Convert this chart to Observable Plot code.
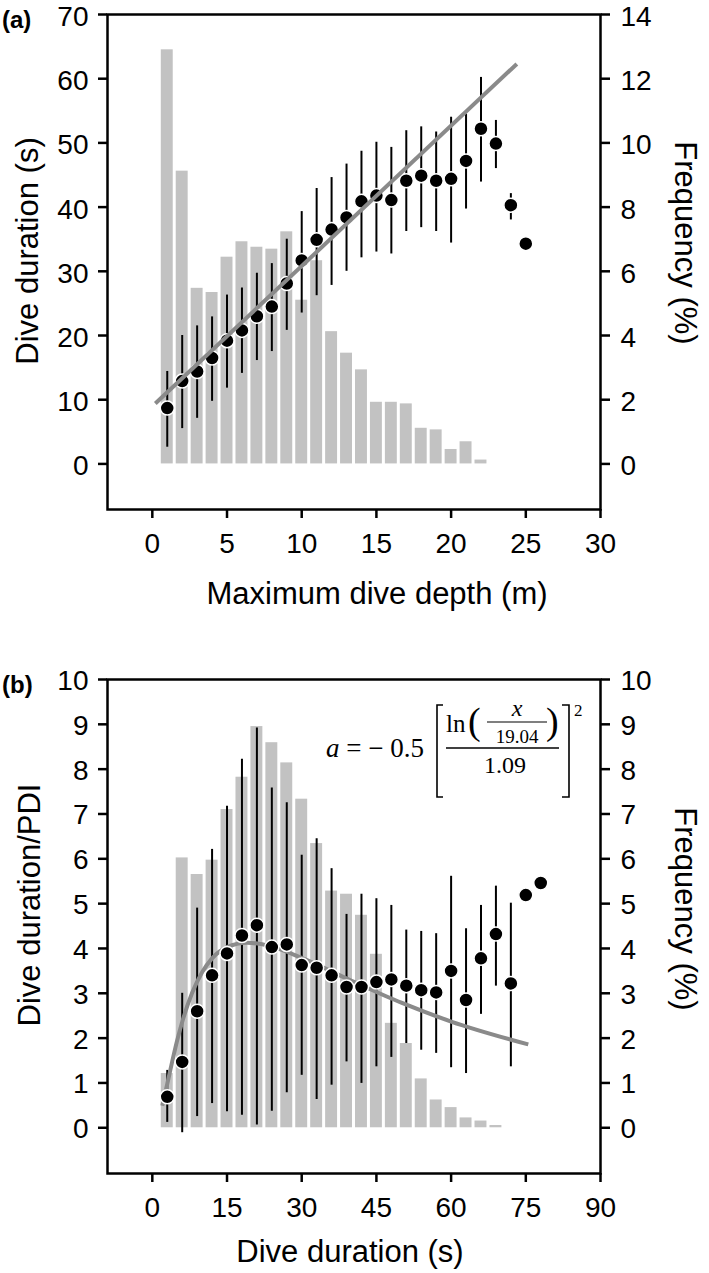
<!DOCTYPE html>
<html><head><meta charset="utf-8">
<script src="https://cdn.jsdelivr.net/npm/d3@7"></script>
<script src="https://cdn.jsdelivr.net/npm/@observablehq/plot@0.6"></script>
<style>
html,body{margin:0;padding:0;background:#fff;}
#wrap{position:relative;width:709px;height:1273px;overflow:hidden;}
#wrap > svg{display:block}
#overlay{position:absolute;left:0;top:0;pointer-events:none}
</style></head><body>
<div id="wrap"></div>
<script>
// ---------- Panel (a): dive duration vs maximum dive depth ----------
const depthBins = [1,2,3,4,5,6,7,8,9,10,11,12,13,14,15,16,17,18,19,20,21,22];
const depthFreq = [12.9,9.12,5.47,5.34,6.44,6.92,6.75,6.69,7.23,5.1,6.33,4.12,3.45,2.93,1.92,1.92,1.87,1.11,1.06,0.45,0.69,0.12];
const depthX = [1,2,3,4,5,6,7,8,9,10,11,12,13,14,15,16,17,18,19,20,21,22,23,24,25];
const durMean = [8.7,12.9,14.4,16.5,19.2,20.8,23.0,24.5,28.1,31.7,34.9,36.5,38.4,40.9,41.8,41.1,44.1,44.9,44.1,44.4,47.2,52.2,49.9,40.3,34.3];
const durLow  = [2.6,5.5,7.1,9.75,11.8,14.1,16.1,17.5,20.8,23.5,26.2,27.8,30.0,32.1,33.0,32.7,36.2,36.8,36.2,34.4,39.7,43.9,46.0,38.0,null];
const durHigh = [14.4,20.0,21.5,22.9,26.3,27.4,29.7,31.2,35.0,39.3,42.9,44.6,46.7,48.7,50.1,49.3,51.9,52.5,51.7,54.0,54.5,60.2,53.5,42.1,null];
const fitDepth = [0.2, 24.4];
const fitDur = [9.4, 62.3];
const ticksAx = [0,5,10,15,20,25,30];
const ticksAyLeft = [0,10,20,30,40,50,60,70];
const ticksAyRight = [0,2,4,6,8,10,12,14];
const freqFactorA = 5; // right axis (0-14 %) shares the left axis (0-70 s)

// ---------- Panel (b): dive duration / PDI vs dive duration ----------
const durBins = [3,6,9,12,15,18,21,24,27,30,33,36,39,42,45,48,51,54,57,60,63,66,69];
const durFreq = [1.21,6.02,5.65,5.97,7.10,7.82,8.95,8.59,8.14,7.33,6.34,5.28,5.21,4.74,3.87,2.33,1.88,1.09,0.62,0.45,0.22,0.15,0.05];
const pdiX = [3,6,9,12,15,18,21,24,27,30,33,36,39,42,45,48,51,54,57,60,63,66,69,72,75,78];
const pdiMean = [0.69,1.47,2.60,3.40,3.89,4.29,4.52,4.03,4.09,3.63,3.57,3.40,3.14,3.14,3.25,3.31,3.17,3.07,3.02,3.50,2.85,3.78,4.32,3.22,5.19,5.46];
const pdiLow  = [0.12,-0.11,0.25,0.54,0.36,0.28,0.06,0.37,0.78,1.17,0.63,0.95,1.47,0.99,1.36,1.57,1.88,1.73,1.66,1.34,1.21,2.53,3.16,1.36,null,null];
const pdiHigh = [1.28,3.0,4.9,6.21,7.17,8.22,8.92,7.58,7.25,6.08,6.45,5.78,4.76,5.21,5.11,4.96,4.41,4.38,4.33,5.61,4.44,4.96,5.39,5.01,null,null];
const curveX = [2,3,4,5,6,8,10,12,15,19,24,30,40,50,60,75.5];
const curveY = [0.49,0.98,1.48,1.95,2.36,3.01,3.47,3.78,4.03,4.13,4.04,3.79,3.28,2.79,2.37,1.86];
const ticksBx = [0,15,30,45,60,75,90];
const ticksBy = [0,1,2,3,4,5,6,7,8,9,10];

// ---------- tables ----------
const barsA = depthBins.map((x,i)=>({x, f: depthFreq[i]}));
const ptsA = depthX.map((x,i)=>({x, m: durMean[i], lo: durLow[i], hi: durHigh[i]}));
const errA = ptsA.filter(d => d.lo != null);
const fitA = fitDepth.map((x,i)=>({x, y: fitDur[i]}));
const barsB = durBins.map((x,i)=>({x, f: durFreq[i]}));
const ptsB = pdiX.map((x,i)=>({x, m: pdiMean[i], lo: pdiLow[i], hi: pdiHigh[i]}));
const errB = ptsB.filter(d => d.lo != null);
const fitB = curveX.map((x,i)=>({x, y: curveY[i]}));

const barFill = "#c2c2c2";
const lineGray = "#8a8a8a";
const style = {fontFamily: "'Liberation Sans', Arial, Helvetica, sans-serif", fontSize: "28px", color: "black", background: "white", overflow: "visible"};
const axisCommon = {tickSize: 9, strokeWidth: 2.5, label: null};
const noText = () => "";

// y-axis ticks drawn by the axis; y labels drawn as text at the frame edge (slightly lowered)
function yAxes(leftTicks, rightTicks, rightFormat, dy) {
  return [
    Plot.axisY({...axisCommon, anchor: "left", ticks: leftTicks, tickFormat: noText}),
    Plot.axisY({...axisCommon, anchor: "right", ticks: rightTicks, tickFormat: noText}),
    Plot.text(leftTicks, {y: d => d, text: d => String(d), frameAnchor: "left", textAnchor: "end", dx: -19, dy}),
    Plot.text(rightTicks, {y: d => d, text: rightFormat, frameAnchor: "right", textAnchor: "start", dx: 20, dy})
  ];
}

const chartA = Plot.plot({
  width: 709, height: 636,
  marginTop: 14, marginBottom: 127, marginLeft: 107, marginRight: 109,
  style,
  x: {domain: [-3, 30]},
  y: {domain: [-7.1, 70]},
  marks: [
    Plot.rectY(barsA, {x1: d => d.x - 0.5, x2: d => d.x + 0.5, y1: 0, y2: d => d.f * freqFactorA, fill: barFill, insetLeft: 1.5, insetRight: 1.5}),
    Plot.ruleX(errA, {x: "x", y1: "lo", y2: "hi", stroke: "black", strokeWidth: 2}),
    Plot.dot(ptsA, {x: "x", y: "m", r: 7, fill: "black", stroke: "white", strokeWidth: 1.5}),
    Plot.line(fitA, {x: "x", y: "y", stroke: lineGray, strokeWidth: 4, strokeLinecap: "butt"}),
    Plot.frame({stroke: "black", strokeWidth: 2.5}),
    Plot.axisX({...axisCommon, ticks: ticksAx, tickPadding: 15, tickFormat: d => String(d)}),
    ...yAxes(ticksAyLeft, ticksAyRight.map(v => v * freqFactorA), d => String(d / freqFactorA), 2.5)
  ]
});

const chartB = Plot.plot({
  width: 709, height: 637,
  marginTop: 43, marginBottom: 100, marginLeft: 107, marginRight: 109,
  style,
  x: {domain: [-9, 90]},
  y: {domain: [-1.02, 10]},
  marks: [
    Plot.rectY(barsB, {x1: d => d.x - 1.5, x2: d => d.x + 1.5, y1: 0, y2: "f", fill: barFill, insetLeft: 1.5, insetRight: 1.5}),
    Plot.ruleX(errB, {x: "x", y1: "lo", y2: "hi", stroke: "black", strokeWidth: 2}),
    Plot.line(fitB, {x: "x", y: "y", curve: "monotone-x", stroke: lineGray, strokeWidth: 4, strokeLinecap: "butt"}),
    Plot.dot(ptsB, {x: "x", y: "m", r: 7, fill: "black", stroke: "white", strokeWidth: 1.5}),
    Plot.frame({stroke: "black", strokeWidth: 2.5}),
    Plot.axisX({...axisCommon, ticks: ticksBx, tickPadding: 15, tickFormat: d => String(d)}),
    ...yAxes(ticksBy, ticksBy, d => String(d), 1.5)
  ]
});

const wrap = document.getElementById("wrap");
wrap.appendChild(chartA);
wrap.appendChild(chartB);

// ---------- titles, panel letters and equation ----------
const sans = "'Liberation Sans', Arial, Helvetica, sans-serif";
const serif = "'Liberation Serif', 'Times New Roman', serif";
const ov = `
<svg id="overlay" width="709" height="1273" xmlns="http://www.w3.org/2000/svg">
 <g font-family="${sans}" fill="black">
  <text x="2" y="19" font-size="24" font-weight="bold" dominant-baseline="central">(a)</text>
  <text x="2" y="684" font-size="24" font-weight="bold" dominant-baseline="central">(b)</text>
  <text transform="translate(27,251) rotate(-90)" font-size="31" text-anchor="middle" dominant-baseline="central">Dive duration (s)</text>
  <text transform="translate(685,243) rotate(90)" font-size="31" text-anchor="middle" dominant-baseline="central">Frequency (%)</text>
  <text x="377" y="593" font-size="31" text-anchor="middle" dominant-baseline="central">Maximum dive depth (m)</text>
  <text transform="translate(29,905) rotate(-90)" font-size="31" text-anchor="middle" dominant-baseline="central">Dive duration/PDI</text>
  <text transform="translate(685,909) rotate(90)" font-size="31" text-anchor="middle" dominant-baseline="central">Frequency (%)</text>
  <text x="350" y="1251" font-size="31" text-anchor="middle" dominant-baseline="central">Dive duration (s)</text>
 </g>
 <g font-family="${serif}" fill="black">
  <text x="326" y="757" font-size="27"><tspan font-style="italic">a</tspan> =  − 0.5</text>
  <path d="M443,705 H437 V797 H443" fill="none" stroke="black" stroke-width="1.6"/>
  <path d="M562,705 H569 V797 H562" fill="none" stroke="black" stroke-width="1.6"/>
  <text x="574" y="716" font-size="17">2</text>
  <text x="446" y="732" font-size="25">ln</text>
  <text x="468" y="734" font-size="38">(</text>
  <text x="546" y="734" font-size="38">)</text>
  <text x="517" y="716" font-size="24" font-style="italic" text-anchor="middle">x</text>
  <line x1="487" x2="547" y1="722" y2="722" stroke="black" stroke-width="1.2"/>
  <text x="517" y="743" font-size="19" text-anchor="middle">19.04</text>
  <line x1="446" x2="559" y1="748" y2="748" stroke="black" stroke-width="1.3"/>
  <text x="505" y="773" font-size="24" text-anchor="middle">1.09</text>
 </g>
</svg>`;
wrap.insertAdjacentHTML("beforeend", ov);
</script>
</body></html>
